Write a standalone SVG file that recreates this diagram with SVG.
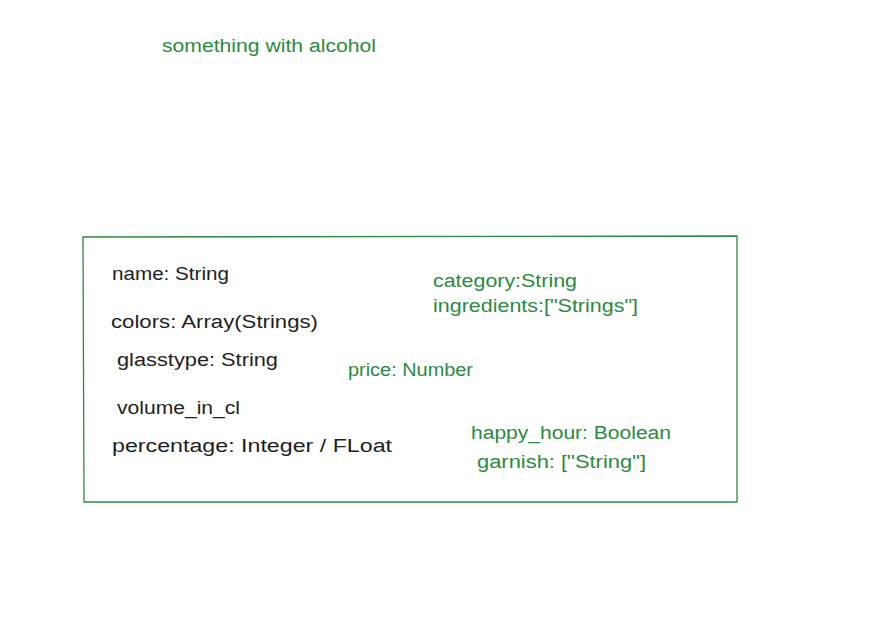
<svg xmlns="http://www.w3.org/2000/svg" width="894" height="621" viewBox="0 0 894 621">
<style>
text{font-family:"Liberation Sans","DejaVu Sans",sans-serif;font-size:18px;}
.k{fill:#1e1e1e;}
.g{fill:#2b8a3e;}
.box{fill:none;stroke:#2f8a3e;stroke-width:1.3;}
</style>
<rect width="894" height="621" fill="#ffffff"/>
<g id="title"><text class="g" x="162" y="52" textLength="214" lengthAdjust="spacingAndGlyphs">something with alcohol</text></g>
<g id="entity">
<path class="box" d="M83 237 L737 236 L737 502 L84 502 Z"/>
<text class="k" x="112" y="280" textLength="117" lengthAdjust="spacingAndGlyphs">name: String</text>
<text class="k" x="111" y="328" textLength="207" lengthAdjust="spacingAndGlyphs">colors: Array(Strings)</text>
<text class="k" x="117" y="366" textLength="161" lengthAdjust="spacingAndGlyphs">glasstype: String</text>
<text class="k" x="117" y="414" textLength="123" lengthAdjust="spacingAndGlyphs">volume_in_cl</text>
<text class="k" x="112" y="452" textLength="280" lengthAdjust="spacingAndGlyphs">percentage: Integer / FLoat</text>
<text class="g" x="433" y="287" textLength="144" lengthAdjust="spacingAndGlyphs">category:String</text>
<text class="g" x="433" y="312" textLength="205" lengthAdjust="spacingAndGlyphs">ingredients:["Strings"]</text>
<text class="g" x="348" y="376" textLength="125" lengthAdjust="spacingAndGlyphs">price: Number</text>
<text class="g" x="471" y="439" textLength="200" lengthAdjust="spacingAndGlyphs">happy_hour: Boolean</text>
<text class="g" x="477" y="468" textLength="169" lengthAdjust="spacingAndGlyphs">garnish: ["String"]</text>
</g>
<g id="connectors"></g>
</svg>
